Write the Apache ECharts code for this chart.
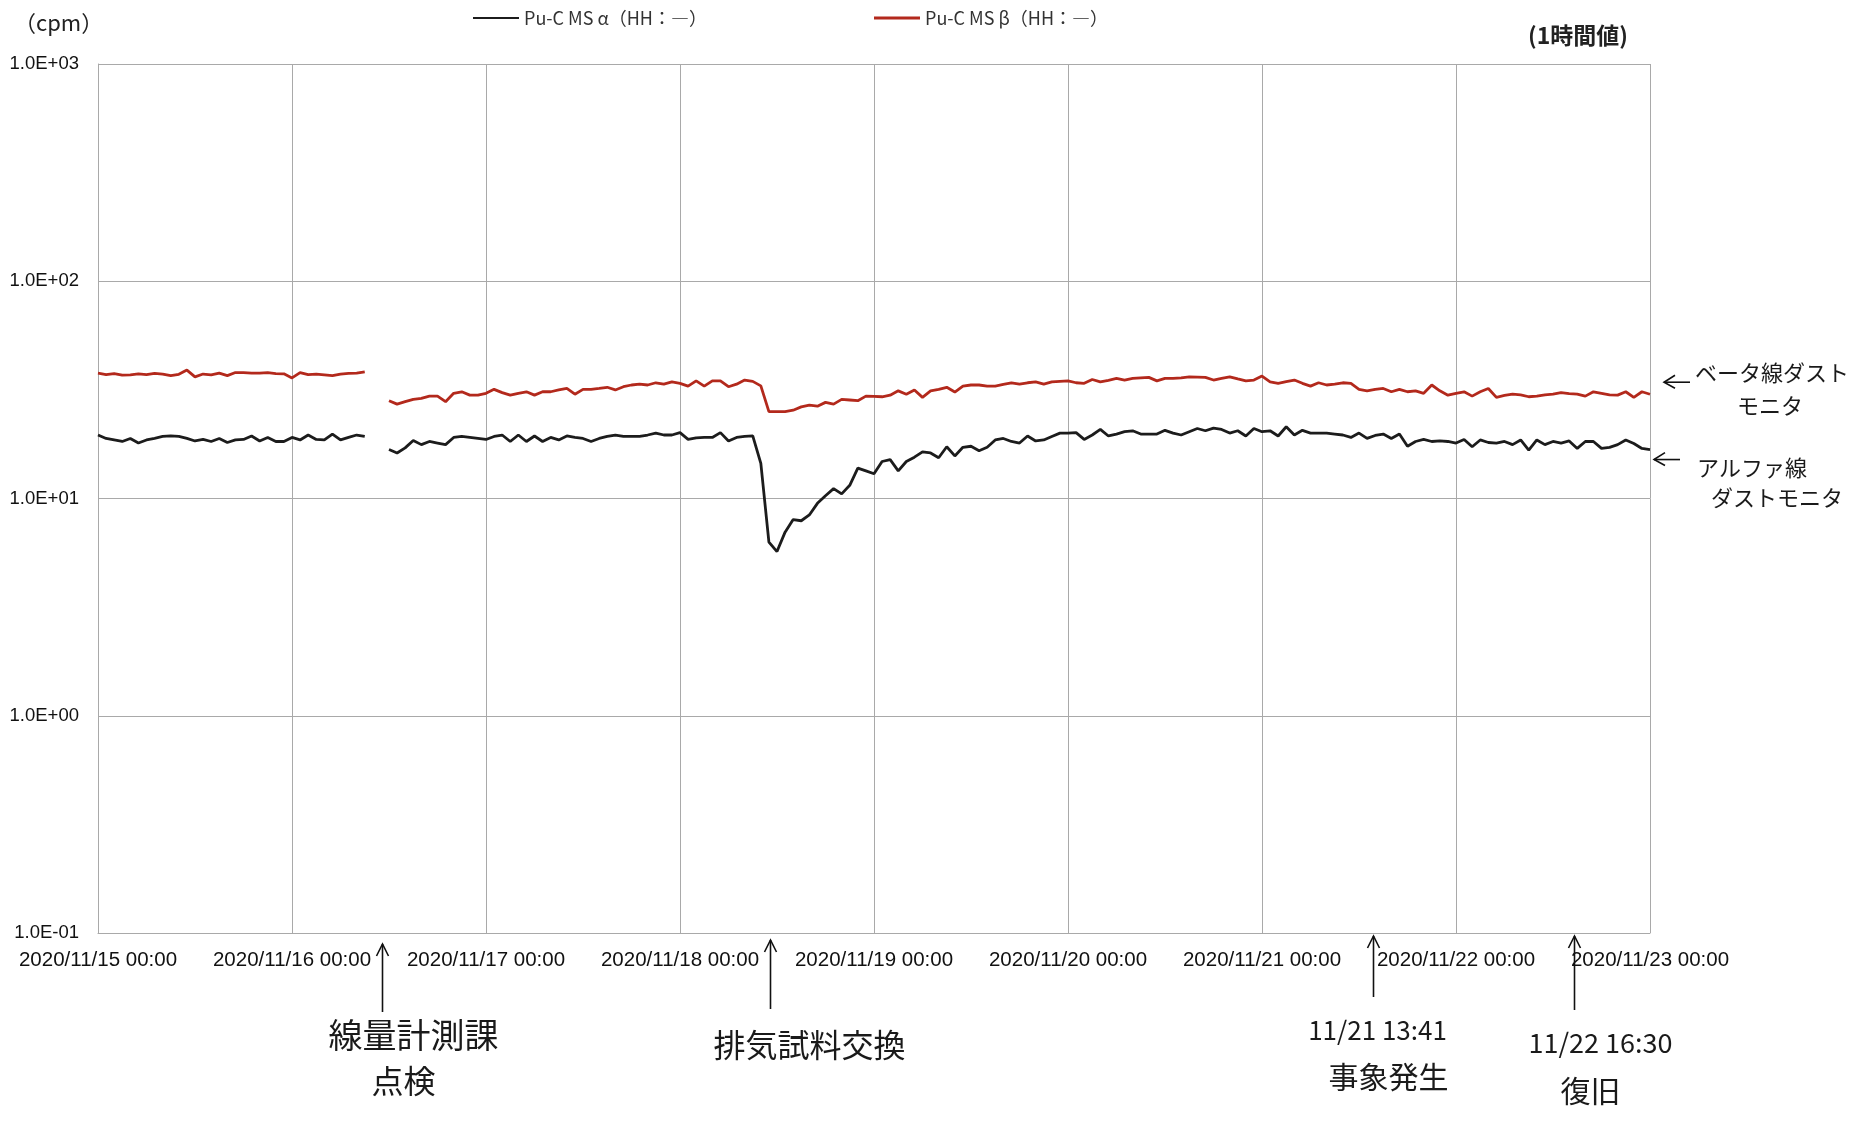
<!DOCTYPE html>
<html><head><meta charset="utf-8">
<script src="https://cdn.jsdelivr.net/npm/echarts@6/dist/echarts.min.js"></script>
<style>html,body{margin:0;padding:0;background:#fff}#c{width:1866px;height:1125px}</style>
</head><body><div id="c"></div>
<script>
// ---- time frame (hourly values from 2020/11/15 00:00 to 2020/11/23 00:00) ----
const startUTC = Date.UTC(2020, 10, 15, 0, 0);
const totalHours = 192;
const yAxisMin = 0.1, yAxisMax = 1000;
const alphaName = 'Pu-C MS α（HH：―）';
const betaName = 'Pu-C MS β（HH：―）';

// ---- alpha dust monitor (cpm), hourly ----
const alphaDay15 = [19.6,18.9,18.6,18.3,18.9,18.0,18.6,18.9,19.3,19.4,19.3,18.9,18.4,18.7,18.3,18.9,18.1,18.6,18.7,19.4,18.4,19.1,18.3,18.3];
const alphaDay16 = [19.1,18.6,19.6,18.7,18.6,19.8,18.6,19.1,19.6,19.3,null,null,16.8,16.2,17.1,18.5,17.7,18.3,18.0,17.7,19.1,19.3,19.1,18.9];
const alphaDay17 = [18.7,19.3,19.6,18.3,19.6,18.3,19.4,18.3,19.1,18.6,19.4,19.1,18.9,18.3,18.9,19.3,19.6,19.3,19.3,19.3,19.6,20.0,19.6,19.6];
const alphaDay18 = [20.1,18.7,19.0,19.1,19.1,20.1,18.4,19.1,19.3,19.4,14.5,6.3,5.7,7.0,8.0,7.9,8.4,9.5,10.3,11.1,10.5,11.5,13.8,13.4];
const alphaDay19 = [13.0,14.8,15.1,13.4,14.8,15.5,16.4,16.2,15.4,17.3,15.7,17.2,17.4,16.6,17.2,18.6,18.9,18.3,18.0,19.4,18.4,18.6,19.3,20.0];
const alphaDay20 = [20.0,20.1,18.7,19.6,20.8,19.4,19.8,20.3,20.5,19.8,19.8,19.8,20.6,20.0,19.6,20.3,21.0,20.5,21.1,20.8,20.0,20.5,19.4,21.0];
const alphaDay21 = [20.3,20.5,19.4,21.4,19.6,20.6,20.0,20.0,20.0,19.8,19.6,19.1,20.0,18.9,19.5,19.8,18.9,19.8,17.4,18.3,18.7,18.3,18.4,18.3];
const alphaDay22 = [18.0,18.7,17.3,18.6,18.1,18.0,18.3,17.7,18.6,16.7,18.6,17.7,18.3,18.0,18.4,17.0,18.3,18.3,17.0,17.2,17.7,18.6,17.9,17.0];
const alphaDay23 = [16.8];

// ---- beta dust monitor (cpm), hourly ----
const betaDay15 = [37.8,37.2,37.6,37.0,37.1,37.5,37.2,37.7,37.4,36.8,37.3,39.0,36.3,37.4,37.1,37.8,36.8,38.0,38.0,37.8,37.8,38.0,37.6,37.5];
const betaDay16 = [35.9,38.0,37.2,37.4,37.1,36.8,37.4,37.7,37.8,38.3,null,null,28.2,27.2,27.9,28.6,28.9,29.6,29.6,27.9,30.5,31.0,29.9,29.9];
const betaDay17 = [30.5,31.8,30.7,29.9,30.5,31.0,29.9,31.0,31.0,31.6,32.1,30.2,31.8,31.8,32.1,32.5,31.6,32.7,33.3,33.6,33.3,34.1,33.6,34.4];
const betaDay18 = [33.9,32.9,34.8,32.9,34.8,34.8,32.7,33.6,35.1,34.6,33.0,25.1,25.1,25.1,25.5,26.4,26.9,26.6,27.7,27.2,28.6,28.4,28.2,29.6];
const betaDay19 = [29.5,29.4,29.9,31.3,30.2,31.6,29.2,31.3,31.8,32.5,30.9,32.9,33.3,33.3,32.9,32.9,33.5,34.1,33.6,34.1,34.4,33.6,34.4,34.6];
const betaDay20 = [34.8,34.1,33.9,35.3,34.4,35.0,35.7,35.1,35.7,35.9,36.1,34.8,35.7,35.7,35.9,36.3,36.2,36.1,35.1,35.7,36.3,35.5,34.8,35.1];
const betaDay21 = [36.6,34.4,33.9,34.5,35.1,33.9,32.9,34.1,33.3,33.6,34.1,33.9,31.8,31.3,31.8,32.1,31.0,31.8,31.0,31.3,30.5,33.3,31.3,29.9];
const betaDay22 = [30.5,31.0,29.6,31.0,32.1,29.2,29.8,30.2,30.0,29.4,29.6,30.0,30.2,30.7,30.4,30.2,29.6,31.0,30.5,30.0,29.9,31.0,29.2,31.0];
const betaDay23 = [30.2];

// ---- handwritten event marks (hours after 2020/11/15 00:00) ----
const eventHours = [35.17, 83.14, 157.68, 182.55];
const eventLabels = [['線量計測課','点検'], ['排気試料交換'], ['11/21 13:41','事象発生'], ['11/22 16:30','復旧']];
const sideNotes = [['ベータ線ダスト','モニタ'], ['アルファ線','ダストモニタ']];

const alphaValues = [].concat(alphaDay15, alphaDay16, alphaDay17, alphaDay18, alphaDay19, alphaDay20, alphaDay21, alphaDay22, alphaDay23);
const betaValues = [].concat(betaDay15, betaDay16, betaDay17, betaDay18, betaDay19, betaDay20, betaDay21, betaDay22, betaDay23);

function pad(n){ return String(n).padStart(2,'0'); }
function hourLabel(h){
  const d = new Date(startUTC + h*3600000);
  return d.getUTCFullYear() + '/' + pad(d.getUTCMonth()+1) + '/' + pad(d.getUTCDate()) + ' ' + pad(d.getUTCHours()) + ':' + pad(d.getUTCMinutes());
}
function expLabel(v){
  const e = Math.round(Math.log10(v));
  return '1.0E' + (e < 0 ? '-' : '+') + pad(Math.abs(e));
}
function toPairs(arr){ return arr.map((v,i)=>[i, v === null ? '-' : v]); }

const chart = echarts.init(document.getElementById('c'), null, {renderer:'canvas'});
const gridColor = '#a9a9a9';
const legendText = {fontSize:18, color:'#333', fontFamily:'"Noto Sans CJK JP", "Liberation Sans", sans-serif'};
chart.setOption({
  animation:false,
  backgroundColor:'#ffffff',
  grid:{left:98, right:216, top:64, bottom:192, containLabel:false, outerBoundsMode:'none'},
  legend:[
    {data:[alphaName], left:468, top:4, icon:'rect', itemWidth:46, itemHeight:2, itemGap:4, textStyle:legendText},
    {data:[betaName], left:869, top:4, icon:'rect', itemWidth:46, itemHeight:3, itemGap:4, textStyle:legendText}
  ],
  xAxis:{
    type:'value', min:0, max:totalHours, interval:24,
    axisLine:{show:true, lineStyle:{color:gridColor, width:1}},
    axisTick:{show:false},
    splitLine:{show:true, lineStyle:{color:gridColor, width:1}},
    axisLabel:{formatter:hourLabel, fontSize:20.5, color:'#111', margin:17, fontFamily:'"Liberation Sans", sans-serif', showMinLabel:true, showMaxLabel:true, hideOverlap:false}
  },
  yAxis:{
    type:'log', logBase:10, min:yAxisMin, max:yAxisMax,
    axisLine:{show:true, lineStyle:{color:gridColor, width:1}},
    axisTick:{show:false},
    splitLine:{show:true, lineStyle:{color:gridColor, width:1}},
    axisLabel:{formatter:expLabel, fontSize:18.5, color:'#111', margin:19, fontFamily:'"Liberation Sans", sans-serif'}
  },
  series:[
    {name:alphaName, type:'line', data:toPairs(alphaValues), showSymbol:false, symbol:'none', connectNulls:false,
     lineStyle:{color:'#1c1c1c', width:2.8}, itemStyle:{color:'#1c1c1c'}, z:3},
    {name:betaName, type:'line', data:toPairs(betaValues), showSymbol:false, symbol:'none', connectNulls:false,
     lineStyle:{color:'#b3291c', width:2.8}, itemStyle:{color:'#b3291c'}, z:2}
  ]
});

// ---- annotation graphics placed through the axis scale ----
const hand = '"Noto Sans CJK JP", sans-serif';
const g = [];
g.push({type:'text', left:14, top:12, style:{text:'（cpm）', font:'22px ' + hand, fill:'#222'}});
g.push({type:'text', left:1528, top:24, style:{text:'(1時間値)', font:'bold 23px ' + hand, fill:'#222'}});

function upArrow(x, yTip, yEnd){
  g.push({type:'line', shape:{x1:x, y1:yTip, x2:x, y2:yEnd}, style:{stroke:'#111', lineWidth:1.6}});
  g.push({type:'polyline', shape:{points:[[x-6,yTip+12],[x,yTip],[x+6,yTip+12]]}, style:{stroke:'#111', lineWidth:1.6, fill:null}});
}
function leftArrow(xTip, xEnd, y){
  g.push({type:'line', shape:{x1:xTip, y1:y, x2:xEnd, y2:y}, style:{stroke:'#111', lineWidth:1.6}});
  g.push({type:'polyline', shape:{points:[[xTip+11,y-7],[xTip,y],[xTip+11,y+6]]}, style:{stroke:'#111', lineWidth:1.6, fill:null}});
}
function handText(text, cx, cy, size){
  g.push({type:'text', x:cx, y:cy, style:{text:text, font:size + 'px ' + hand, fill:'#1a1a1a', align:'center', verticalAlign:'middle'}});
}
const arrowTips = [944, 940, 936, 936];
const arrowEnds = [1012, 1009, 997, 1010];
const textOffsets = [[31, 21], [39], [4, 15], [26, 16]];
const textRows = [[1035, 1081], [1045], [1030, 1077], [1043, 1091]];
const textSizes = [[34, 32], [32], [26, 30], [27, 30]];
eventHours.forEach((h, i) => {
  const x = Math.round(chart.convertToPixel({xAxisIndex:0}, h)) + 0.5;
  upArrow(x, arrowTips[i], arrowEnds[i]);
  eventLabels[i].forEach((t, j) => handText(t, x + textOffsets[i][j], textRows[i][j], textSizes[i][j]));
});
// side notes for the two lines (anchored at the last data point)
const xEnd = chart.convertToPixel({xAxisIndex:0}, totalHours);
const yBeta = chart.convertToPixel({yAxisIndex:0}, betaValues[betaValues.length-1]);
const yAlpha = chart.convertToPixel({yAxisIndex:0}, alphaValues[alphaValues.length-1]);
leftArrow(xEnd + 14, xEnd + 40, yBeta - 12);
handText(sideNotes[0][0], xEnd + 122, yBeta - 22, 22);
handText(sideNotes[0][1], xEnd + 120, yBeta + 11, 22);
leftArrow(xEnd + 4, xEnd + 30, yAlpha + 10);
handText(sideNotes[1][0], xEnd + 102, yAlpha + 18, 22);
handText(sideNotes[1][1], xEnd + 127, yAlpha + 48, 22);
chart.setOption({graphic:g});
</script></body></html>
